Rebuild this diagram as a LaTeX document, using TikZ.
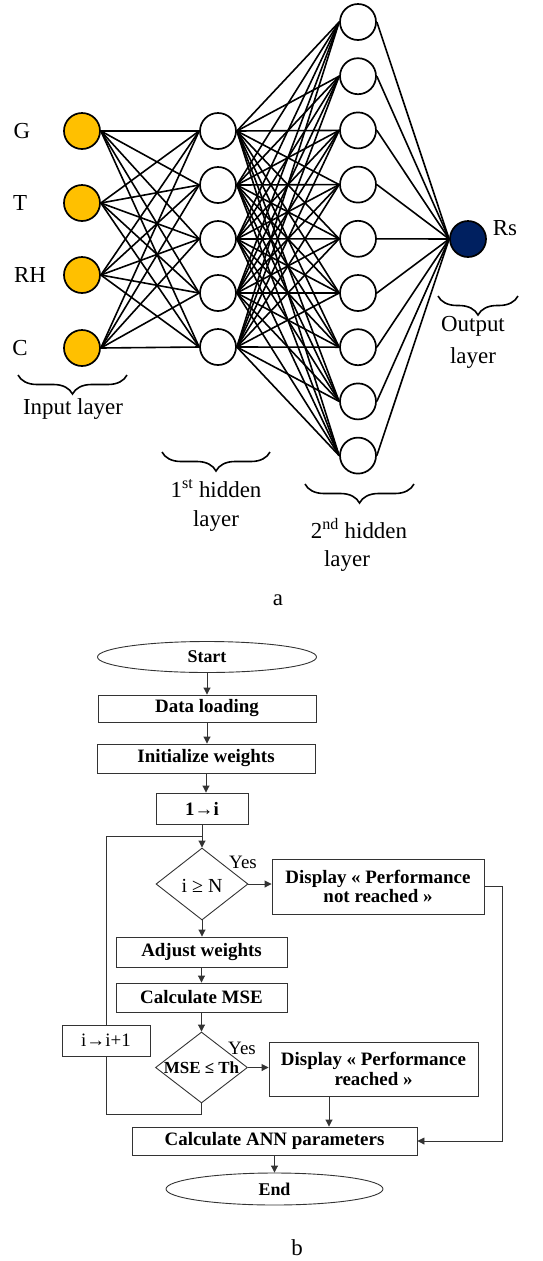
\documentclass[tikz,border=0pt]{standalone}
\usepackage{fontspec}
\setmainfont{Liberation Serif}
\usetikzlibrary{shapes.geometric,arrows.meta,decorations.pathreplacing,calc}
\definecolor{inyellow}{HTML}{FFC000}
\definecolor{outnavy}{HTML}{002060}
\begin{document}
\begin{tikzpicture}[x=1bp,y=-1bp,
  neuron/.style={circle,draw,line width=1.7bp,minimum size=36bp,inner sep=0pt},
  conn/.style={line width=1.6bp},
  nnlabel/.style={font=\fontsize{23}{25}\selectfont,inner sep=0pt},
  layerbrace/.style={decorate,decoration={brace,amplitude=19bp},line width=1.6bp},
  fbox/.style={draw=black!80,line width=0.9bp,rectangle,inner sep=0pt,align=center,
    font=\bfseries\fontsize{19}{19}\selectfont},
  term/.style={draw=black!80,line width=0.9bp,ellipse,inner sep=0pt,
    font=\bfseries\fontsize{18}{19}\selectfont},
  decision/.style={draw=black!80,line width=0.9bp,diamond,inner sep=0pt,
    minimum width=92bp,minimum height=72bp},
  flow/.style={draw=black!80,line width=0.9bp},
  arr/.style={flow,-{Triangle[length=7bp,width=7bp]}},
  ftext/.style={font=\fontsize{19}{20}\selectfont,inner sep=0pt}
]
\useasboundingbox (0,0) rectangle (543,1261);

% ---------------- neural network ----------------
\foreach \n/\y in {1/131,2/203,3/275,4/348}
  \node[neuron,fill=inyellow] (i\n) at (82,\y) {};
\foreach \n in {1,...,5}
  \node[neuron] (h\n) at (218,{131+54*(\n-1)}) {};
\foreach \n in {1,...,9}
  \node[neuron] (k\n) at (358,{22+54.2*(\n-1)}) {};
\node[neuron,fill=outnavy] (o) at (468,239) {};

\foreach \a in {1,...,4}
  \foreach \b in {1,...,5}
    \draw[conn] (i\a.east) -- (h\b.west);
\foreach \a in {1,...,5}
  \foreach \b in {1,...,9}
    \draw[conn] (h\a.east) -- (k\b.west);
\foreach \a in {1,...,9}
  \draw[conn] (k\a.east) -- (o.west);

\node[nnlabel] (lg) at (22,131) {G};
\node[nnlabel] (lt) at (20,203) {T};
\node[nnlabel] (lrh) at (30,275) {RH};
\node[nnlabel] (lc) at (20,348) {C};
\node[nnlabel] (lrs) at (505,228) {Rs};

\coordinate (b1r) at (127,375); \coordinate (b1l) at (18,375);
\draw[layerbrace] (b1r) -- (b1l);
\node[nnlabel] (tin) at (73,409) {Input layer};

\coordinate (b2r) at (270,452); \coordinate (b2l) at (162,452);
\draw[layerbrace] (b2r) -- (b2l);
\node[nnlabel] (th1a) at (216,489) {1\textsuperscript{st} hidden};
\node[nnlabel] (th1b) at (216,521) {layer};

\coordinate (b3r) at (414,484); \coordinate (b3l) at (305,484);
\draw[layerbrace] (b3r) -- (b3l);
\node[nnlabel] (th2a) at (359,529) {2\textsuperscript{nd} hidden};
\node[nnlabel] (th2b) at (347,561) {layer};

\coordinate (b4r) at (518,296); \coordinate (b4l) at (438,296);
\draw[layerbrace] (b4r) -- (b4l);
\node[nnlabel] (tout) at (473,326) {Output};
\node[nnlabel] (toutb) at (473,358) {layer};

\node[nnlabel] (capa) at (278,600) {a};

% ---------------- flowchart ----------------
\node[term,minimum width=219bp,minimum height=31bp] (start) at (207,657) {Start};
\node[fbox,minimum width=218bp,minimum height=27bp] (load) at (207,708.5) {Data loading};
\node[fbox,minimum width=218bp,minimum height=29bp] (init) at (206,758.5) {Initialize weights};
\node[fbox,minimum width=92bp,minimum height=31bp] (onei) at (202,808.5) {1→i};
\node[decision] (d1) at (202,884) {};
\node[ftext,font=\fontsize{20}{20}\selectfont] (d1t) at (202,886) {i ≥ N};
\node[fbox,minimum width=212bp,minimum height=55bp] (ndisp) at (378,886.5) {Display « Performance\\not reached »};
\node[fbox,minimum width=171bp,minimum height=30bp] (adj) at (201.5,952) {Adjust weights};
\node[fbox,minimum width=171bp,minimum height=29bp] (mse) at (201.5,997.5) {Calculate MSE};
\node[decision,minimum height=71bp] (d2) at (201.5,1067.5) {};
\node[ftext,font=\bfseries\fontsize{17}{18}\selectfont] (d2t) at (201.5,1067.5) {MSE ≤ Th};
\node[fbox,minimum width=209bp,minimum height=54bp,font=\bfseries\fontsize{19}{20}\selectfont] (disp2) at (373.5,1069) {Display « Performance\\reached »};
\node[fbox,minimum width=88bp,minimum height=31bp,font=\fontsize{19}{20}\selectfont] (inc) at (106,1040.5) {i→i+1};
\node[fbox,minimum width=285bp,minimum height=28bp] (ann) at (274.5,1141) {Calculate ANN parameters};
\node[term,minimum width=217bp,minimum height=32bp] (endn) at (274.5,1189) {End};

\node[ftext] (yes1) at (243,862) {Yes};
\node[ftext] (yes2) at (242,1048) {Yes};
\node[nnlabel] (capb) at (297,1248) {b};

\draw[arr] (start.south) -- (start.south |- load.north);
\draw[arr] (load.south) -- (load.south |- init.north);
\draw[arr] (init.south) -- (init.south |- onei.north);
\draw[arr] (onei.south) -- (d1.north);
\coordinate (lj) at ($(onei.south)!0.5!(d1.north)$);
\draw[arr] (d1.east) -- (d1.east -| ndisp.west);
\draw[arr] (ndisp.east) -- ++(18,0) |- (ann.east);
\draw[arr] (d1.south) -- (d1.south |- adj.north);
\draw[arr] (adj.south) -- (adj.south |- mse.north);
\draw[arr] (mse.south) -- (mse.south |- d2.north);
\draw[arr] (d2.east) -- (d2.east -| disp2.west);
\draw[arr] ([xshift=-44.5bp]disp2.south) -- ([xshift=-44.5bp]disp2.south |- ann.north);
\draw[arr] (ann.south) -- (ann.south |- endn.north);
\draw[flow] (d2.south) -- ++(0,11) -| (inc.south);
\draw[flow] (inc.north) |- (lj);
\end{tikzpicture}
\end{document}
